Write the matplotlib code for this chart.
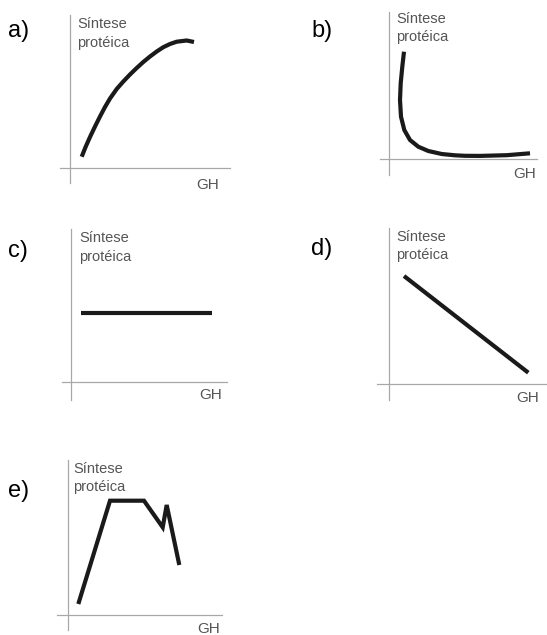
import matplotlib.pyplot as plt

W, H = 547, 635

# curve readings, in pixel offsets from each panel's axis origin (x right, y up)
a_x = [11.7, 15.7, 20, 25, 30, 35, 40, 46.7, 53.3, 60, 66.7, 73.3, 80, 86.7, 93.3, 100, 106.7, 116.7, 124]
a_y = [11.3, 21.3, 31, 41.5, 51.5, 61, 69.5, 79, 86.5, 93.5, 100, 106, 111.5, 116.5, 120.8, 124, 126.3, 127.5, 126]

b_x = [15, 13.3, 11.7, 11, 12, 15.3, 21, 29.3, 39.3, 52.7, 66, 76, 91, 117.7, 141]
b_y = [107.8, 92.8, 76.2, 59.5, 42.8, 29.5, 19.5, 12.8, 8.5, 5.5, 4.2, 3.7, 3.6, 4.3, 6.2]

c_x = [9.7, 141]
c_y = [68.7, 68.7]

d_x = [15.3, 139.6]
d_y = [108, 11.3]

e_x = [10.6, 42.3, 76.3, 95, 99, 111.6]
e_y = [11, 114.3, 114.3, 87.7, 110, 50]

letters = ["a)", "b)", "c)", "d)", "e)"]
ylabel = ["Síntese", "protéica"]
xlabel = "GH"

# panel geometry in pixels: origin (x, y), spine extents left/right/top/bottom
panels = [
    dict(o=(70, 168), l=60, r=230, t=15, b=183, let=(8, 37), yl=(77, 28), xl=(196, 189)),
    dict(o=(389, 159.5), l=380, r=537, t=12, b=175, let=(311, 37), yl=(396, 23), xl=(513, 178)),
    dict(o=(71, 382), l=62, r=227, t=229, b=400, let=(8, 257), yl=(79, 242), xl=(199, 399)),
    dict(o=(388.7, 384), l=377, r=547, t=228, b=400, let=(311, 255), yl=(396, 241), xl=(516, 402)),
    dict(o=(67.7, 615), l=57, r=222, t=460, b=630, let=(8, 497), yl=(73, 473), xl=(197, 633)),
]
series = [(a_x, a_y), (b_x, b_y), (c_x, c_y), (d_x, d_y), (e_x, e_y)]

plt.rcParams["font.family"] = ["Liberation Sans", "DejaVu Sans"]
fig = plt.figure(figsize=(W / 100, H / 100), dpi=100)


def fx(x):
    return x / W


def fy(y):
    return 1 - y / H


for i, p in enumerate(panels):
    ox, oy = p["o"]
    ax = fig.add_axes([fx(p["l"]), fy(p["b"]), (p["r"] - p["l"]) / W, (p["b"] - p["t"]) / H])
    ax.set_xlim(p["l"] - ox, p["r"] - ox)
    ax.set_ylim(oy - p["b"], oy - p["t"])
    ax.patch.set_visible(False)
    for s in ["top", "right"]:
        ax.spines[s].set_visible(False)
    for s in ["left", "bottom"]:
        ax.spines[s].set_position(("data", 0))
        ax.spines[s].set_color("#a8a8a8")
        ax.spines[s].set_linewidth(0.9)
    ax.set_xticks([])
    ax.set_yticks([])
    xs, ys = series[i]
    join = "miter" if i == 4 else "round"
    ax.plot(xs, ys, color="#1a1a1a", lw=3.0, solid_joinstyle=join, solid_capstyle="butt")

    fig.text(fx(p["let"][0]), fy(p["let"][1]), letters[i], fontsize=17, color="black",
             ha="left", va="baseline")
    fig.text(fx(p["yl"][0]), fy(p["yl"][1]), ylabel[0], fontsize=10.5, color="#555555",
             ha="left", va="baseline")
    fig.text(fx(p["yl"][0]), fy(p["yl"][1] + 18.5), ylabel[1], fontsize=10.5, color="#555555",
             ha="left", va="baseline")
    fig.text(fx(p["xl"][0]), fy(p["xl"][1]), xlabel, fontsize=11, color="#555555",
             ha="left", va="baseline")

fig.savefig("out.png", dpi=100)
